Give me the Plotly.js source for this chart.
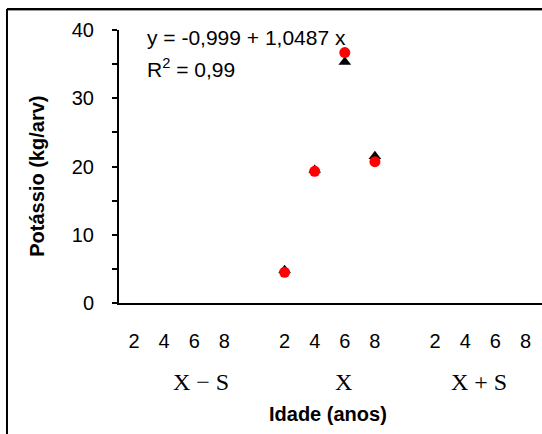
<!DOCTYPE html>
<html>
<head>
<meta charset="utf-8">
<script src="https://cdn.plot.ly/plotly-3.0.1.min.js"></script>
<style>html,body{margin:0;padding:0;background:#fff;}</style>
</head>
<body>
<div id="chart" style="width:542px;height:434px;"></div>
<script>
// ---- data ----
const ages = ["2", "4", "6", "8"];
const groups = ["X \u2212 S", "X", "X + S"];
const dataGroup = "X";
const kTriangle = [4.8, 19.5, 35.3, 21.5];
const kCircle = [4.5, 19.3, 36.7, 20.7];
const yTickVals = [0, 10, 20, 30, 40];
const yTickText = ["0", "10", "20", "30", "40"];
const equationText = "y = -0,999 + 1,0487 x";
const r2Text = "R<sup>2</sup> = 0,99";

// ---- positions on a categorical-like numeric axis ----
const step = ages.length + 1;
const tickVals = [], tickText = [];
groups.forEach((g, gi) => ages.forEach((a, ai) => { tickVals.push(gi * step + ai); tickText.push(a); }));
const gIdx = groups.indexOf(dataGroup);
const xData = ages.map((a, ai) => gIdx * step + ai);

const font = "Liberation Sans, Arial, sans-serif";
const serif = "Liberation Serif, Times New Roman, serif";

const traces = [
  {x: xData, y: kTriangle, type: "scatter", mode: "markers",
   marker: {symbol: "triangle-up", size: 11, color: "#000000"}, cliponaxis: false},
  {x: xData, y: kCircle, type: "scatter", mode: "markers",
   marker: {symbol: "circle", size: 11, color: "#ff0000"}, cliponaxis: false}
];

const groupLabelX = [2.23, 6.96, 11.46];
const annotations = groups.map((g, gi) => ({
  x: groupLabelX[gi], xref: "x", y: -0.289, yref: "paper", text: g, showarrow: false,
  xanchor: "center", yanchor: "middle", font: {family: serif, size: 24, color: "#000"}
}));
annotations.push(
  {x: 0.0615, xref: "paper", y: 0.9707, yref: "paper", text: equationText, showarrow: false,
   xanchor: "left", yanchor: "middle", font: {family: font, size: 21, color: "#000"}},
  {x: 0.0615, xref: "paper", y: 0.861, yref: "paper", text: r2Text, showarrow: false,
   xanchor: "left", yanchor: "middle", font: {family: font, size: 21, color: "#000"}},
  {x: -0.194, xref: "paper", y: 0.466, yref: "paper", text: "<b>Potássio (kg/arv)</b>", showarrow: false,
   textangle: -90, xanchor: "center", yanchor: "middle", font: {family: font, size: 20, color: "#000"}},
  {x: 0.493, xref: "paper", y: -0.4066, yref: "paper", text: "<b>Idade (anos)</b>", showarrow: false,
   xanchor: "center", yanchor: "middle", font: {family: font, size: 20, color: "#000"}}
);

const layout = {
  width: 542, height: 434,
  margin: {l: 119, r: 0, t: 30, b: 131},
  paper_bgcolor: "#ffffff", plot_bgcolor: "#ffffff",
  showlegend: false,
  font: {family: font, color: "#000"},
  xaxis: {
    range: [-0.5, 13.55], tickvals: tickVals, ticktext: tickText,
    showgrid: false, zeroline: false, showline: true, linecolor: "#000", linewidth: 2,
    ticks: "", ticklabelstandoff: 19, tickfont: {family: font, size: 20, color: "#000"},
    fixedrange: true
  },
  yaxis: {
    range: [0, 40], tickvals: yTickVals, ticktext: yTickText,
    showgrid: false, zeroline: false, showline: true, linecolor: "#000", linewidth: 2,
    ticks: "outside", ticklen: 5, tickwidth: 2, tickcolor: "#000",
    minor: {dtick: 5, ticks: "outside", ticklen: 5, tickwidth: 2, tickcolor: "#000", showgrid: false},
    ticklabelstandoff: 14, tickfont: {family: font, size: 20, color: "#000"},
    fixedrange: true
  },
  annotations: annotations,
  shapes: [
    {type: "line", xref: "paper", yref: "paper", x0: -0.2648, x1: 1.0, y0: 1.0769, y1: 1.0769,
     line: {color: "#000", width: 2}},
    {type: "line", xref: "paper", yref: "paper", x0: -0.2648, x1: 1.0, y0: 1.0714, y1: 1.0714,
     line: {color: "#999", width: 1}},
    {type: "line", xref: "paper", yref: "paper", x0: -0.2648, x1: -0.2648, y0: 1.0769, y1: -0.49,
     line: {color: "#000", width: 2}}
  ]
};

Plotly.newPlot("chart", traces, layout, {staticPlot: true, displayModeBar: false});
</script>
</body>
</html>
